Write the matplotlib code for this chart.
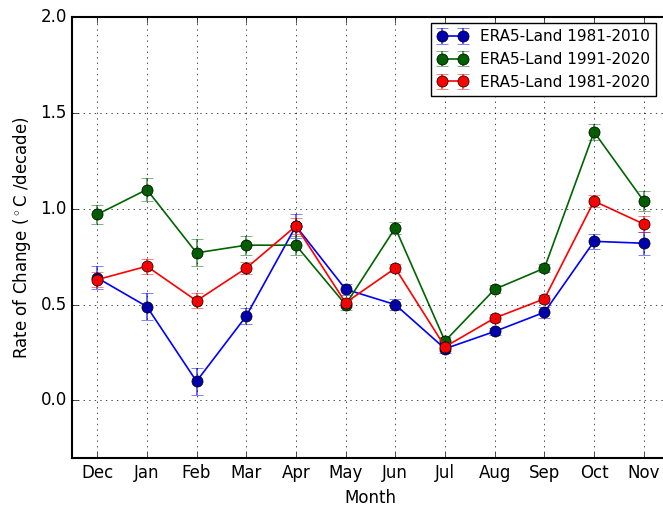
import matplotlib
matplotlib.use("Agg")
import matplotlib.pyplot as plt
import numpy as np

plt.style.use("classic")

months = ["Dec", "Jan", "Feb", "Mar", "Apr", "May", "Jun", "Jul", "Aug", "Sep", "Oct", "Nov"]

# ERA5-Land 1981-2010
blue_vals = [0.64, 0.49, 0.10, 0.44, 0.91, 0.58, 0.50, 0.27, 0.36, 0.46, 0.83, 0.82]
blue_err = [0.06, 0.07, 0.07, 0.04, 0.06, 0.03, 0.03, 0.02, 0.02, 0.03, 0.04, 0.06]
# ERA5-Land 1991-2020
green_vals = [0.97, 1.10, 0.77, 0.81, 0.81, 0.50, 0.90, 0.31, 0.58, 0.69, 1.40, 1.04]
green_err = [0.05, 0.06, 0.07, 0.05, 0.05, 0.03, 0.03, 0.02, 0.02, 0.02, 0.04, 0.05]
# ERA5-Land 1981-2020
red_vals = [0.63, 0.70, 0.52, 0.69, 0.91, 0.51, 0.69, 0.28, 0.43, 0.53, 1.04, 0.92]
red_err = [0.04, 0.04, 0.04, 0.03, 0.04, 0.02, 0.02, 0.02, 0.02, 0.02, 0.03, 0.04]

series = [
    ("ERA5-Land 1981-2010", blue_vals, blue_err, "#0000ff", "#0000b0"),
    ("ERA5-Land 1991-2020", green_vals, green_err, "#006400", "#006000"),
    ("ERA5-Land 1981-2020", red_vals, red_err, "#ff0000", "#ff0000"),
]

fig = plt.figure(figsize=(6.63, 5.07), dpi=100, facecolor="white")
ax = fig.add_axes([0.1090, 0.0966, 0.8995, 0.8699])
x = np.arange(len(months))

for label, vals, err, c, fc in series:
    eb = ax.errorbar(x, vals, yerr=err, color=c, marker="o", markersize=8,
                     markerfacecolor=fc, markeredgecolor="black", capsize=4,
                     lw=1.2, label=label)
    # error bars look a bit faded in the original
    for cap in eb[1]:
        cap.set_alpha(0.7)
    for bar in eb[2]:
        bar.set_alpha(0.7)

for sp in ax.spines.values():
    sp.set_linewidth(1.5)

ax.set_xlim(-0.5, 11.5)
ax.set_ylim(-0.3, 2.0)
ax.set_xticks(x)
ax.set_xticklabels(months)
ax.set_yticks([0.0, 0.5, 1.0, 1.5, 2.0])
ax.grid(True)
ax.set_xlabel("Month")
ax.set_ylabel("Rate of Change ($^\\circ$C /decade)")
ax.legend(loc="upper right", fontsize=11, bbox_to_anchor=(0.979, 0.986),
          borderaxespad=0)

fig.savefig("out.png", dpi=100, facecolor="white")
